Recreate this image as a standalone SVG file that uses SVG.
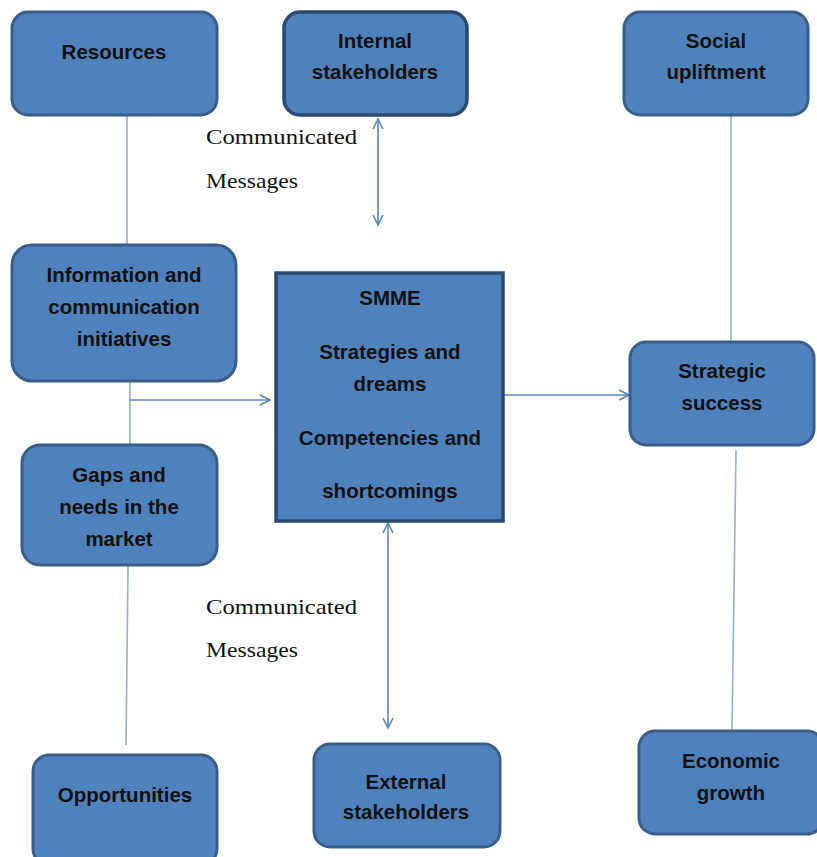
<svg xmlns="http://www.w3.org/2000/svg" width="817" height="857" viewBox="0 0 817 857">
<defs>
<style>
.box{fill:#4f81bd;stroke:#385d8a;stroke-width:3}
.dark{stroke:#2a4a72;stroke-width:3.5}
.t{font-family:"Liberation Sans",Arial,sans-serif;font-weight:bold;font-size:20.5px;fill:#111;text-anchor:middle}
.lbl{font-family:"Liberation Serif","Times New Roman",serif;font-size:22px;fill:#111}
.ln{stroke:#8fb0d8;stroke-width:1.6;fill:none}
.ar{stroke:#5a86c0;stroke-width:1.6;fill:none}
</style>
<marker id="ah" viewBox="0 0 12 12" refX="11" refY="6" markerWidth="12" markerHeight="12" markerUnits="userSpaceOnUse" orient="auto-start-reverse">
<path d="M1,1 L11,6 L1,11" fill="none" stroke="#5a86c0" stroke-width="1.6"/>
</marker>
</defs>
<rect width="817" height="857" fill="#fff"/>
<g id="connectors">
<line class="ln" x1="127" y1="116" x2="127" y2="244"/>
<line class="ln" x1="130" y1="382" x2="130" y2="444"/>
<line class="ar" x1="130" y1="400" x2="270" y2="400" marker-end="url(#ah)"/>
<line class="ar" x1="504" y1="395" x2="629" y2="395" marker-end="url(#ah)"/>
<line class="ln" x1="731" y1="116" x2="731" y2="341"/>
<line class="ln" x1="736" y1="450" x2="732" y2="730"/>
<line class="ln" x1="128" y1="566" x2="126" y2="745"/>
<line class="ar" x1="378" y1="119" x2="378" y2="225" marker-start="url(#ah)" marker-end="url(#ah)"/>
<line class="ar" x1="388" y1="523" x2="388" y2="728" marker-start="url(#ah)" marker-end="url(#ah)"/>
</g>
<g id="labels">
<text class="lbl" x="206" y="144" textLength="151" lengthAdjust="spacingAndGlyphs">Communicated</text>
<text class="lbl" x="206" y="188" textLength="92" lengthAdjust="spacingAndGlyphs">Messages</text>
<text class="lbl" x="206" y="614" textLength="151" lengthAdjust="spacingAndGlyphs">Communicated</text>
<text class="lbl" x="206" y="657" textLength="92" lengthAdjust="spacingAndGlyphs">Messages</text>
</g>
<g id="resources">
<rect class="box" x="12" y="12" width="205" height="103" rx="16"/>
<text class="t" x="114" y="59">Resources</text>
</g>
<g id="internal">
<rect class="box dark" x="284" y="12" width="183" height="103" rx="16"/>
<text class="t" x="375" y="48">Internal</text>
<text class="t" x="375" y="79">stakeholders</text>
</g>
<g id="social">
<rect class="box" x="624" y="12" width="184" height="103" rx="16"/>
<text class="t" x="716" y="48">Social</text>
<text class="t" x="716" y="79">upliftment</text>
</g>
<g id="info">
<rect class="box" x="12" y="245" width="224" height="136" rx="20"/>
<text class="t" x="124" y="282">Information and</text>
<text class="t" x="124" y="314">communication</text>
<text class="t" x="124" y="346">initiatives</text>
</g>
<g id="smme">
<rect class="box" x="276" y="273" width="227" height="248" style="stroke:#2a4a72;stroke-width:3.5"/>
<text class="t" x="390" y="305">SMME</text>
<text class="t" x="390" y="359">Strategies and</text>
<text class="t" x="390" y="391">dreams</text>
<text class="t" x="390" y="445">Competencies and</text>
<text class="t" x="390" y="498">shortcomings</text>
</g>
<g id="strategic">
<rect class="box" x="630" y="342" width="184" height="103" rx="16"/>
<text class="t" x="722" y="378">Strategic</text>
<text class="t" x="722" y="410">success</text>
</g>
<g id="gaps">
<rect class="box" x="22" y="445" width="195" height="120" rx="18"/>
<text class="t" x="119" y="482">Gaps and</text>
<text class="t" x="119" y="514">needs in the</text>
<text class="t" x="119" y="546">market</text>
</g>
<g id="opportunities">
<rect class="box" x="33" y="755" width="184" height="110" rx="16"/>
<text class="t" x="125" y="802">Opportunities</text>
</g>
<g id="external">
<rect class="box" x="314" y="744" width="186" height="103" rx="16"/>
<text class="t" x="406" y="789">External</text>
<text class="t" x="406" y="819">stakeholders</text>
</g>
<g id="economic">
<rect class="box" x="639" y="731" width="184" height="103" rx="16"/>
<text class="t" x="731" y="768">Economic</text>
<text class="t" x="731" y="800">growth</text>
</g>
</svg>
